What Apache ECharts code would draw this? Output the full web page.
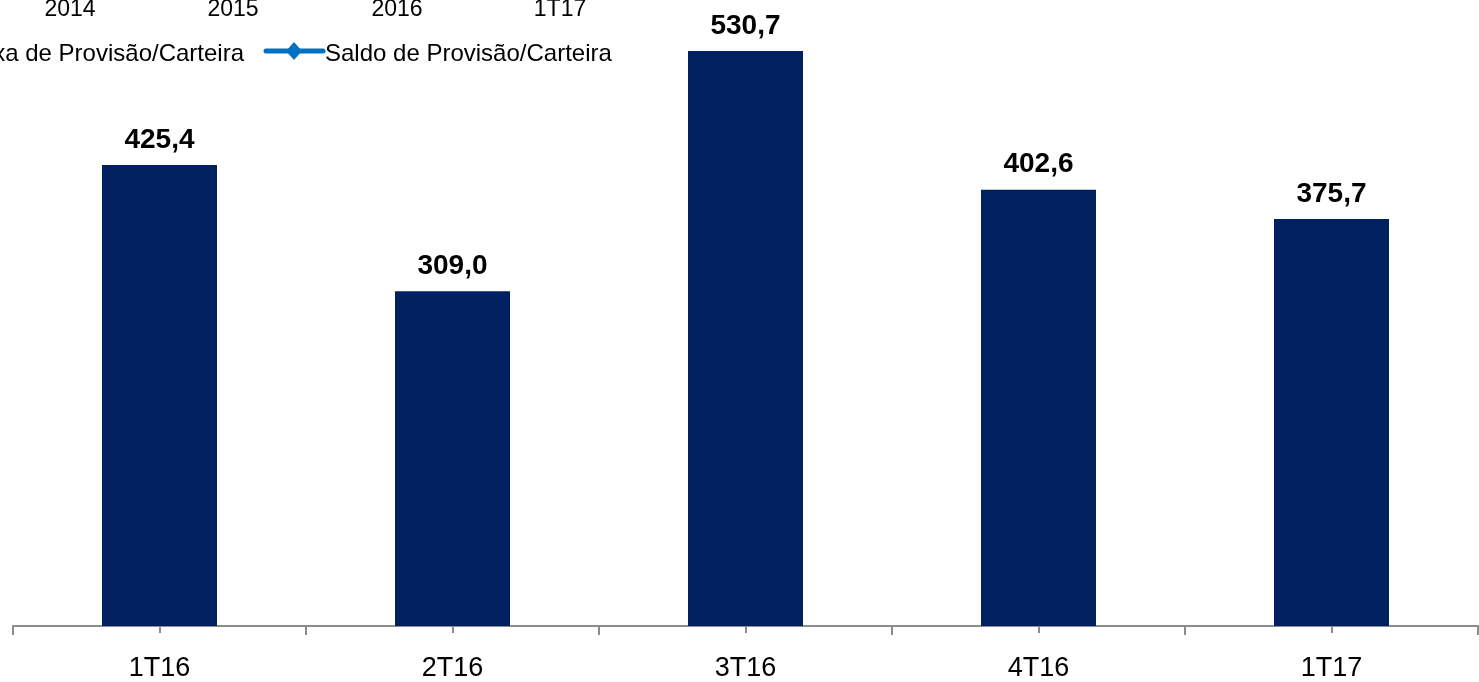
<!DOCTYPE html>
<html>
<head>
<meta charset="utf-8">
<script src="https://cdn.jsdelivr.net/npm/echarts@6/dist/echarts.min.js"></script>
<style>html,body{margin:0;padding:0;background:#fff;}#c{width:1479px;height:682px;}</style>
</head>
<body>
<div id="c"></div>
<script>
const categories = ['1T16', '2T16', '3T16', '4T16', '1T17'];
const values = [425.4, 309.0, 530.7, 402.6, 375.7];
const topYears = ['2014', '2015', '2016', '1T17'];
const legendNames = ['Taxa de Provisão/Carteira', 'Saldo de Provisão/Carteira'];

const chart = echarts.init(document.getElementById('c'));
const FONT = '"Liberation Sans", Arial, sans-serif';
const yearX = [70, 233, 397, 560];

const graphics = [];
topYears.forEach((t, i) => {
  graphics.push({type: 'text', x: yearX[i], y: 21,
    style: {text: t, fontFamily: FONT, fontSize: 23, fill: '#000', align: 'center', verticalAlign: 'bottom'}});
});
graphics.push({type: 'text', x: 244, y: 54,
  style: {text: legendNames[0], fontFamily: FONT, fontSize: 24, fill: '#000', align: 'right', verticalAlign: 'middle'}});
graphics.push({type: 'line', shape: {x1: 266, y1: 51, x2: 323, y2: 51},
  style: {stroke: '#0070C0', lineWidth: 5, lineCap: 'round'}});
graphics.push({type: 'polygon', shape: {points: [[294, 42], [302, 51], [294, 60], [286, 51]]},
  style: {fill: '#0070C0'}});
graphics.push({type: 'text', x: 325, y: 54,
  style: {text: legendNames[1], fontFamily: FONT, fontSize: 24, fill: '#000', align: 'left', verticalAlign: 'middle'}});

chart.setOption({
  animation: false,
  grid: {left: 13, right: 1, top: 30, bottom: 55},
  xAxis: [{
    type: 'category', data: categories, position: 'bottom',
    axisLine: {show: true, lineStyle: {color: '#8c8c8c', width: 2}},
    axisTick: {show: true, alignWithLabel: false, interval: 0, length: 9, lineStyle: {color: '#8c8c8c', width: 2}},
    axisLabel: {fontFamily: FONT, fontSize: 27, color: '#000', margin: 29}
  }, {
    type: 'category', data: categories, position: 'bottom',
    axisLine: {show: false},
    axisTick: {show: true, alignWithLabel: true, interval: 0, length: 7, lineStyle: {color: '#8c8c8c', width: 2}},
    axisLabel: {show: false}
  }],
  yAxis: {type: 'value', min: 0, max: 550, show: false, splitLine: {show: false}},
  series: [{
    type: 'bar', data: values, barWidth: 115, xAxisIndex: 0,
    itemStyle: {color: '#002060'},
    label: {show: true, position: 'top', distance: 11, fontFamily: FONT, fontSize: 28, fontWeight: 'bold', color: '#000',
      formatter: p => p.value.toFixed(1).replace('.', ',')}
  }],
  graphic: graphics
});
</script>
</body>
</html>
